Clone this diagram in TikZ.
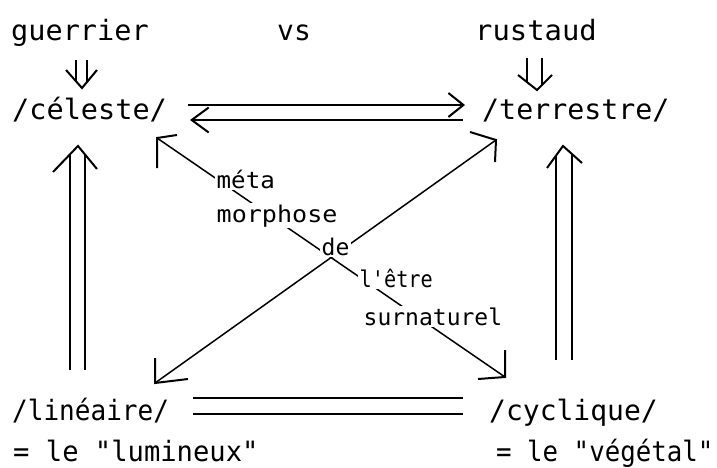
\documentclass[tikz,border=0pt]{standalone}
\usepackage{fontspec}
\usetikzlibrary{arrows.meta}
\newfontfamily\monofnt{DejaVu Sans Mono}
\tikzset{
  lbl/.style={anchor=base west, inner sep=0pt, font=\monofnt\fontsize{28}{30}\selectfont},
  midlbl/.style={anchor=base west, inner sep=1.5pt, fill=white, font=\monofnt\fontsize{23}{25}\selectfont},
  ln/.style={line width=2pt},
  dg/.style={line width=1.5pt},
  headR/.style={-{Straight Barb[length=15pt,width=24pt]}},
  headL/.style={{Straight Barb[length=17pt,width=25pt]}-},
}
\begin{document}
\begin{tikzpicture}[x=1pt,y=-1pt]
\useasboundingbox[fill=white] (0,0) rectangle (717,468);

% top words
\node[lbl] (guer) at (11,41) {\scalebox{1.02}[1]{guerrier}};
\node[lbl] (vs) at (277,41) {vs};
\node[lbl] (rust) at (475,41) {\scalebox{1.03}[1]{rustaud}};

% corner terms
\node[lbl] (cel) at (12,120) {\scalebox{1.02}[1]{/céleste/}};
\node[lbl] (ter) at (482,120) {\scalebox{1.01}[1]{/terrestre/}};
\node[lbl] (lin) at (12,420) {\scalebox{0.93}[1]{/linéaire/}};
\node[lbl] (cyc) at (489,420) {\scalebox{1.0}[1]{/cyclique/}};
\node[lbl] (lum) at (13,461) {\scalebox{0.97}[1]{= le "lumineux"}};
\node[lbl] (veg) at (496,461) {\scalebox{0.92}[1]{= le "végétal"}};

% small double arrows under guerrier / rustaud
\coordinate (gA1) at (76,60); \coordinate (gB1) at (76,81);
\coordinate (gA2) at (87,60); \coordinate (gB2) at (87,82);
\coordinate (gT) at (82,88);
\draw[ln] (gA1) -- (gB1);
\draw[ln] (gA2) -- (gB2);
\draw[ln] (gT) +(-16,-18) -- (gT) -- +(15,-18);

\coordinate (rA1) at (527,58); \coordinate (rB1) at (527,82);
\coordinate (rA2) at (542,58); \coordinate (rB2) at (542,85);
\coordinate (rT) at (537,90);
\draw[ln] (rA1) -- (rB1);
\draw[ln] (rA2) -- (rB2);
\draw[ln] (rT) +(-19,-15) -- (rT) -- +(15,-15);

% top horizontal arrows
\coordinate (ctA) at (188,105); \coordinate (ctB) at (465,105);
\coordinate (tcA) at (190,120); \coordinate (tcB) at (463,120);
\draw[ln,headR] (ctA) -- (ctB);
\draw[ln,headL] (tcA) -- (tcB);

% left vertical double arrow
\coordinate (lv1a) at (70,370); \coordinate (lv1b) at (70,154);
\coordinate (lv2a) at (85,370); \coordinate (lv2b) at (85,154);
\coordinate (lvT) at (78,146);
\draw[ln] (lv1a) -- (lv1b);
\draw[ln] (lv2a) -- (lv2b);
\draw[ln] (lvT) +(-25,26) -- (lvT) -- +(19,23);

% right vertical double arrow
\coordinate (rv1a) at (556,360); \coordinate (rv1b) at (556,155);
\coordinate (rv2a) at (572,360); \coordinate (rv2b) at (572,154);
\coordinate (rvT) at (563,146);
\draw[ln] (rv1a) -- (rv1b);
\draw[ln] (rv2a) -- (rv2b);
\draw[ln] (rvT) +(-16,22) -- (rvT) -- +(19,17);

% bottom double line
\coordinate (bl1a) at (193,398); \coordinate (bl1b) at (463,398);
\coordinate (bl2a) at (193,414); \coordinate (bl2b) at (463,414);
\draw[ln] (bl1a) -- (bl1b);
\draw[ln] (bl2a) -- (bl2b);

% diagonals with their heads
\coordinate (d1a) at (157,138); \coordinate (d1b) at (505,377);
\coordinate (d2a) at (155,383); \coordinate (d2b) at (496,140);
\draw[dg] (d1a) -- (d1b);
\draw[dg] (d2a) -- (d2b);
\draw[ln] (d1a) +(0,30) -- (d1a) -- +(20,-3);
\draw[ln] (d1b) +(0,-27) -- (d1b) -- +(-27,2);
\draw[ln] (d2a) +(0,-25) -- (d2a) -- +(33,-4);
\draw[ln] (d2b) +(-1,22) -- (d2b) -- +(-26,-8);

% middle labels
\node[midlbl] (meta) at (215,188) {\scalebox{1.05}[1]{méta}};
\node[midlbl] (morph) at (215,222) {\scalebox{1.09}[1]{morphose}};
\node[midlbl] (de) at (320,255) {de};
\node[midlbl] (etre) at (358,287) {\scalebox{0.88}[1]{l'être}};
\node[midlbl] (surn) at (362,325) {\scalebox{1.0}[1]{surnaturel}};
\end{tikzpicture}
\end{document}
